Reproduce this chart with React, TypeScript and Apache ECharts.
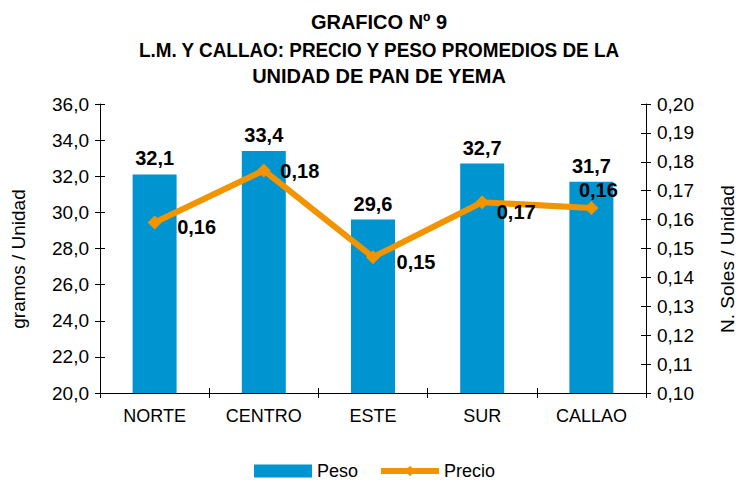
import React, { useEffect, useRef } from "react";
import * as echarts from "echarts";

const categories = ["NORTE", "CENTRO", "ESTE", "SUR", "CALLAO"];
const pesoValues = [32.1, 33.4, 29.6, 32.7, 31.7];
const precioValues = [0.159, 0.177, 0.147, 0.166, 0.164];
const precioLabels = ["0,16", "0,18", "0,15", "0,17", "0,16"];
const titleLines = ["GRAFICO Nº 9", "L.M. Y CALLAO: PRECIO Y PESO PROMEDIOS DE LA", "UNIDAD DE PAN DE YEMA"];
const leftAxisName = "gramos / Unidad";
const rightAxisName = "N. Soles / Unidad";

const FONT = "Liberation Sans, Arial, sans-serif";
const BLUE = "#0094D0";
const ORANGE = "#F29400";

export default function App() {
  const ref = useRef<HTMLDivElement>(null);
  useEffect(() => {
    if (!ref.current) return;
    const chart = echarts.init(ref.current, undefined, { renderer: "svg" });
    const labelOffsets = [[42, 5], [36, 1], [43, 5], [34, 10], [7, -18]];
    const titleY = [22, 50, 76];
    const titleScale = [1.0, 0.945, 1.0];
    const yLabelStyle = { color: "#000", fontSize: 19, fontFamily: FONT };
    const tickStyle = { color: "#000", width: 1 };
    const option: any = {
      animation: false,
      backgroundColor: "#fff",
      textStyle: { fontFamily: FONT },
      graphic: [
        ...titleLines.map((t, i) => ({
          type: "text",
          x: 379,
          y: titleY[i],
          scaleX: titleScale[i],
          style: {
            text: t,
            textAlign: "center",
            textVerticalAlign: "middle",
            fill: "#000",
            font: `bold 20px ${FONT}`,
          },
        })),
        {
          type: "text",
          x: 18,
          y: 259,
          rotation: Math.PI / 2,
          style: {
            text: leftAxisName,
            textAlign: "center",
            textVerticalAlign: "middle",
            fill: "#000",
            font: `19px ${FONT}`,
          },
        },
        {
          type: "text",
          x: 727,
          y: 259,
          rotation: Math.PI / 2,
          style: {
            text: rightAxisName,
            textAlign: "center",
            textVerticalAlign: "middle",
            fill: "#000",
            font: `19px ${FONT}`,
          },
        },
      ],
      legend: {
        top: 457,
        left: 249,
        itemWidth: 58,
        itemHeight: 13,
        itemGap: 20,
        textStyle: { color: "#000", fontSize: 18, fontFamily: FONT },
        data: [
          { name: "Peso", icon: "rect" },
          { name: "Precio", lineStyle: { width: 6, color: ORANGE } },
        ],
      },
      grid: { left: 100, right: 91, top: 104, bottom: 87 },
      xAxis: [
        {
          type: "category",
          data: categories,
          axisLine: { lineStyle: { color: "#000", width: 1 } },
          axisTick: { show: true, length: 5, lineStyle: tickStyle },
          axisLabel: { color: "#000", fontSize: 18, fontFamily: FONT, margin: 14 },
        },
        {
          type: "category",
          data: categories,
          position: "bottom",
          axisLine: { show: false },
          axisTick: { show: true, inside: true, length: 5, lineStyle: tickStyle },
          axisLabel: { show: false },
        },
      ],
      yAxis: [
        {
          type: "value",
          min: 20,
          max: 36,
          interval: 2,
          position: "left",
          axisLine: { show: true, lineStyle: { color: "#000" } },
          axisTick: { show: true, length: 5, lineStyle: tickStyle },
          axisLabel: { ...yLabelStyle, margin: 11, formatter: (v: number) => v.toFixed(1).replace(".", ",") },
          splitLine: { show: false },
        },
        {
          type: "value",
          min: 20,
          max: 36,
          interval: 2,
          position: "left",
          axisLine: { show: false },
          axisTick: { show: true, inside: true, length: 5, lineStyle: tickStyle },
          axisLabel: { show: false },
          splitLine: { show: false },
        },
        {
          type: "value",
          min: 0.1,
          max: 0.2,
          interval: 0.01,
          position: "right",
          axisLine: { show: true, lineStyle: { color: "#000" } },
          axisTick: { show: true, length: 5, lineStyle: tickStyle },
          axisLabel: { ...yLabelStyle, margin: 11, formatter: (v: number) => v.toFixed(2).replace(".", ",") },
          splitLine: { show: false },
        },
        {
          type: "value",
          min: 0.1,
          max: 0.2,
          interval: 0.01,
          position: "right",
          axisLine: { show: false },
          axisTick: { show: true, inside: true, length: 5, lineStyle: tickStyle },
          axisLabel: { show: false },
          splitLine: { show: false },
        },
      ],
      series: [
        {
          name: "Peso",
          type: "bar",
          yAxisIndex: 0,
          data: pesoValues,
          barWidth: 44,
          itemStyle: { color: BLUE },
          label: {
            show: true,
            position: "top",
            distance: 6,
            color: "#000",
            fontSize: 20,
            fontWeight: "bold",
            fontFamily: FONT,
            formatter: (p: any) => p.value.toFixed(1).replace(".", ","),
          },
        },
        {
          name: "Precio",
          type: "line",
          yAxisIndex: 2,
          symbol: "diamond",
          symbolSize: 14,
          lineStyle: { color: ORANGE, width: 6 },
          itemStyle: { color: ORANGE },
          data: precioValues.map((v, i) => ({
            value: v,
            label: {
              show: true,
              position: "inside",
              offset: labelOffsets[i],
              color: "#000",
              fontSize: 20,
              fontWeight: "bold",
              fontFamily: FONT,
              formatter: () => precioLabels[i],
            },
          })),
        },
      ],
    };
    chart.setOption(option);
    return () => chart.dispose();
  }, []);
  return (
    <div
      ref={ref}
      style={{ position: "absolute", left: 0, top: 0, width: 737, height: 480 }}
    />
  );
}
